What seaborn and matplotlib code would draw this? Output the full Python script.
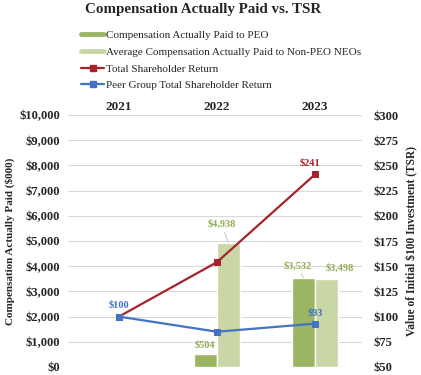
import numpy as np
import pandas as pd
import matplotlib
matplotlib.use("Agg")
import matplotlib.pyplot as plt
from matplotlib.lines import Line2D
import seaborn as sns

# 数据
years = ["2021", "2022", "2023"]
peo_cap = [np.nan, 504, 3532]
neo_cap = [np.nan, 4938, 3498]
tsr = [100, 154, 241]
peer_tsr = [100, 85, 93]

bar_names = ["Compensation Actually Paid to PEO",
             "Average Compensation Actually Paid to Non-PEO NEOs"]
line_names = ["Total Shareholder Return",
              "Peer Group Total Shareholder Return"]

c_peo = "#9BB563"
c_neo = "#C9D7A7"
c_tsr = "#A5232B"
c_peer = "#4472C4"
c_lab = "#93AE55"

sns.set_style("white")
plt.rcParams["font.family"] = ["Liberation Serif", "DejaVu Serif"]

df = pd.DataFrame({
    "year": years * 2,
    "series": [bar_names[0]] * 3 + [bar_names[1]] * 3,
    "value": peo_cap + neo_cap,
})

fig = plt.figure(figsize=(4.21, 3.75), dpi=100)
ax = fig.add_axes([68 / 421, 8 / 375, 294 / 421, 252 / 375])
ax2 = ax.twinx()

sns.barplot(data=df, x="year", y="value", hue="series", order=years,
            hue_order=bar_names, palette=[c_peo, c_neo], width=0.47,
            saturation=1, gap=0, legend=False, ax=ax)

x = np.arange(len(years))
sns.lineplot(x=x, y=tsr, color=c_tsr, marker="s", markersize=5,
             markeredgecolor=c_tsr, linewidth=1.6, ax=ax2)
sns.lineplot(x=x, y=peer_tsr, color=c_peer, marker="s", markersize=5,
             markeredgecolor=c_peer, linewidth=1.6, ax=ax2)

ax.set_xlim(-0.52, 2.48)
ax.set_ylim(0, 10000)
ax2.set_ylim(50, 300)
ax.set_yticks(np.arange(0, 10001, 1000))
ax2.set_yticks(np.arange(50, 301, 25))
ax.set_yticklabels([f"${v:,.0f}" for v in ax.get_yticks()])
ax2.set_yticklabels([f"${v:.0f}" for v in ax2.get_yticks()])
ax.grid(axis="y", color="#D9D9D9", linewidth=0.8)
ax.set_axisbelow(True)
for a in (ax, ax2):
    for s in a.spines.values():
        s.set_visible(False)
    a.tick_params(length=0, labelsize=9)
    for t in a.get_yticklabels() + a.get_xticklabels():
        t.set_fontweight("bold")
ax.xaxis.tick_top()
ax.tick_params(axis="x", pad=1.5, labelsize=9.5)
for t in ax.get_xticklabels():
    t.set_fontweight("bold")
ax.tick_params(axis="y", pad=5.5)
ax2.tick_params(axis="y", pad=8)
ax.set_xlabel("")
ax.set_ylabel("Compensation Actually Paid ($000)", fontsize=8,
              fontweight="bold", labelpad=3)
ax2.set_ylabel("Value of Initial $100 Investment (TSR)", fontsize=8.3,
               fontweight="bold", labelpad=6)

# 数据标签
bw = 0.47 / 2
lead = dict(arrowstyle="-", color="#BFBFBF", lw=0.6, shrinkA=0, shrinkB=0)
lab = dict(textcoords="offset points", ha="center", va="center",
           fontsize=7.5, fontweight="bold", annotation_clip=False)
for i, v in enumerate(peo_cap):
    if np.isnan(v):
        continue
    if v < 1000:
        ax.annotate(f"${v:,.0f}", (i - bw / 2, v), xytext=(0, 6.5), color=c_lab, **lab)
    else:
        ax.annotate(f"${v:,.0f}", (i - bw / 2, v), xytext=(-4.3, 8.6), color=c_lab,
                    arrowprops=lead, **lab)
for i, v in enumerate(neo_cap):
    if np.isnan(v):
        continue
    if i == 1:
        ax.annotate(f"${v:,.0f}", (i + bw / 2, v), xytext=(-5, 13), color=c_lab,
                    arrowprops=lead, **lab)
    else:
        ax.annotate(f"${v:,.0f}", (i + bw / 2, v), xytext=(10, 7.5), color=c_lab, **lab)
ax2.annotate(f"${tsr[2]}", (2, tsr[2]), xytext=(-3.5, 8.6), color=c_tsr, **lab)
ax2.annotate(f"${peer_tsr[0]}", (0, peer_tsr[0]), xytext=(0, 8), color=c_peer, **lab)
ax2.annotate(f"${peer_tsr[2]}", (2, peer_tsr[2]), xytext=(0, 8), color=c_peer, **lab)

fig.text(203 / 421, 1 - 10 / 375, "Compensation Actually Paid vs. TSR",
         ha="center", va="center", fontsize=10.8, fontweight="bold")

handles = [Line2D([], [], color=c_peo, lw=3.5),
           Line2D([], [], color=c_neo, lw=3.5),
           Line2D([], [], color=c_tsr, lw=1.6, marker="s", markersize=4),
           Line2D([], [], color=c_peer, lw=1.6, marker="s", markersize=4)]
fig.legend(handles, bar_names + line_names, loc="upper left",
           bbox_to_anchor=(77 / 421, 1 - 26 / 375), frameon=False,
           fontsize=8, handlelength=2.0, handletextpad=0.25,
           labelspacing=0.62, borderaxespad=0)

fig.savefig("out.png", dpi=100)
